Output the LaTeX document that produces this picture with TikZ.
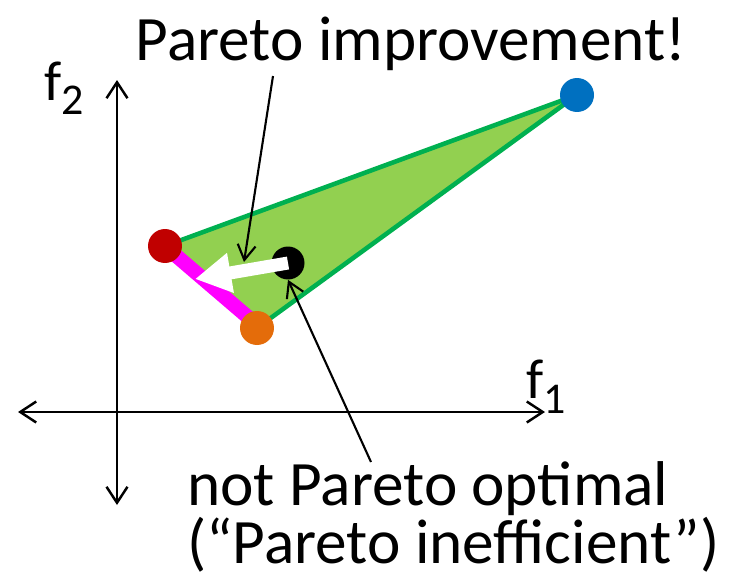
\documentclass[tikz,border=0pt]{standalone}
\usepackage{fontspec}
\setmainfont{Carlito}
\usetikzlibrary{arrows.meta}
\definecolor{trigreen}{RGB}{146,208,80}
\definecolor{edgegreen}{RGB}{0,176,80}
\definecolor{ptblue}{RGB}{0,112,192}
\definecolor{ptred}{RGB}{192,0,0}
\definecolor{ptorange}{RGB}{228,108,10}
\definecolor{frontpink}{RGB}{255,0,255}
\newcommand{\axsub}[1]{\raisebox{-0.3cm}{\fontsize{25}{25}\selectfont #1}}

\begin{document}
\begin{tikzpicture}[
    x=0.02cm, y=-0.02cm,
    every node/.style={font=\fontsize{36}{33}\selectfont},
    axlabel/.style={font=\fontsize{32}{32}\selectfont, anchor=base west, inner sep=0pt},
    axis/.style={line width=1.4pt, {Straight Barb[length=0.32cm, width=0.42cm]}-{Straight Barb[length=0.32cm, width=0.42cm]}},
    dot/.style={circle, inner sep=0pt, minimum size=0.68cm},
    pointer/.style={line width=1.2pt, -{Straight Barb[length=0.3cm, width=0.36cm]}},
]
\useasboundingbox (0,0) rectangle (737,578);

% axes
\coordinate (ytop) at (117,80);
\coordinate (ybot) at (117,505);
\coordinate (xleft) at (18,412);
\coordinate (xright) at (545,412);
\draw[axis] (ybot) -- (ytop);
\draw[axis] (xleft) -- (xright);
\node[axlabel] (f1) at (526,398) {f\axsub{1}};
\node[axlabel] (f2) at (44,100) {f\axsub{2}};

% objective vectors
\coordinate (cB) at (577,95);
\coordinate (cR) at (165,246);
\coordinate (cO) at (257,328);
\coordinate (cK) at (288,263);

% feasible region
\draw[fill=trigreen, draw=edgegreen, line width=2.6pt, line join=round] (cR) -- (cB) -- (cO) -- cycle;

% Pareto front
\draw[frontpink, line width=0.29cm] (173,253) -- (249,318);

\node[dot, fill=ptblue] (ptB) at (cB) {};
\node[dot, fill=ptred] (ptR) at (cR) {};
\node[dot, fill=ptorange] (ptO) at (cO) {};
\node[dot, fill=black, minimum size=0.66cm] (ptK) at (cK) {};

% white improvement arrow
\coordinate (wtip) at (195,279);
\draw[white, line width=0.26cm, -{Triangle[length=0.72cm, width=0.76cm]}] (ptK.center) -- (wtip);

% labels
\node[anchor=base, inner sep=0pt] (impr) at (411,60) {Pareto improvement!};
\coordinate (imprstart) at (273,76);
\coordinate (imprend) at (244,262);
\draw[pointer] (imprstart) -- (imprend);

\node[align=left, anchor=north west, inner sep=0pt] (notopt) at (187,461) {not Pareto optimal\\(“Pareto inefficient”)};
\coordinate (notstart) at (371,462);
\draw[pointer] (notstart) -- (ptK.south);

\end{tikzpicture}
\end{document}
